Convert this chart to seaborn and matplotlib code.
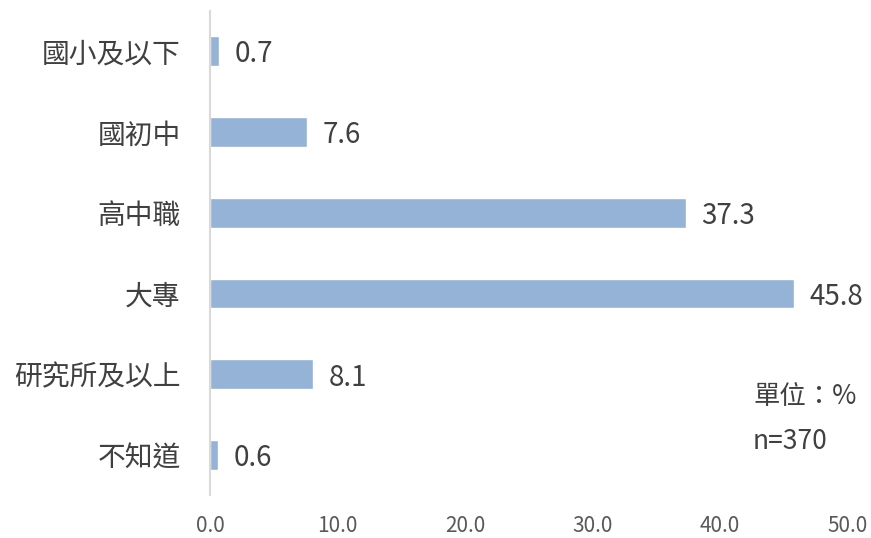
import pandas as pd
import seaborn as sns
import matplotlib.pyplot as plt

categories = ["國小及以下", "國初中", "高中職", "大專", "研究所及以上", "不知道"]
values = [0.7, 7.6, 37.3, 45.8, 8.1, 0.6]
xticks = [0, 10, 20, 30, 40, 50]

df = pd.DataFrame({"edu": categories, "pct": values})

sns.set_style("white")
plt.rcParams["font.family"] = ["Noto Sans CJK TC", "DejaVu Sans"]

fig = plt.figure(figsize=(8.71, 5.38), dpi=100)
ax = fig.add_axes([0.241, 0.079, 0.732, 0.901])

sns.barplot(data=df, x="pct", y="edu", orient="h", color="#95B3D7",
            saturation=1, width=0.37, ax=ax)

for i, v in enumerate(values):
    ax.text(v + 1.25, i + 0.04, f"{v:.1f}", va="center", ha="left",
            fontsize=20, color="#404040")

ax.set_xlim(0, 50)
ax.set_xticks(xticks)
ax.set_xticklabels([f"{t:.1f}" for t in xticks], fontsize=15, color="#595959")
ax.tick_params(axis="y", labelsize=20, labelcolor="#404040", length=0, pad=21)
ax.tick_params(axis="x", length=0, pad=14)
ax.set_xlabel("")
ax.set_ylabel("")

for s in ["top", "right", "bottom"]:
    ax.spines[s].set_visible(False)
ax.spines["left"].set_color("#D9D9D9")
ax.spines["left"].set_linewidth(1.5)

ax.text(42.6, 4.27, "單位：%", fontsize=19, color="#404040", va="center")
ax.text(42.6, 4.83, "n=370", fontsize=19, color="#404040", va="center")

fig.savefig("out.png", dpi=100)
